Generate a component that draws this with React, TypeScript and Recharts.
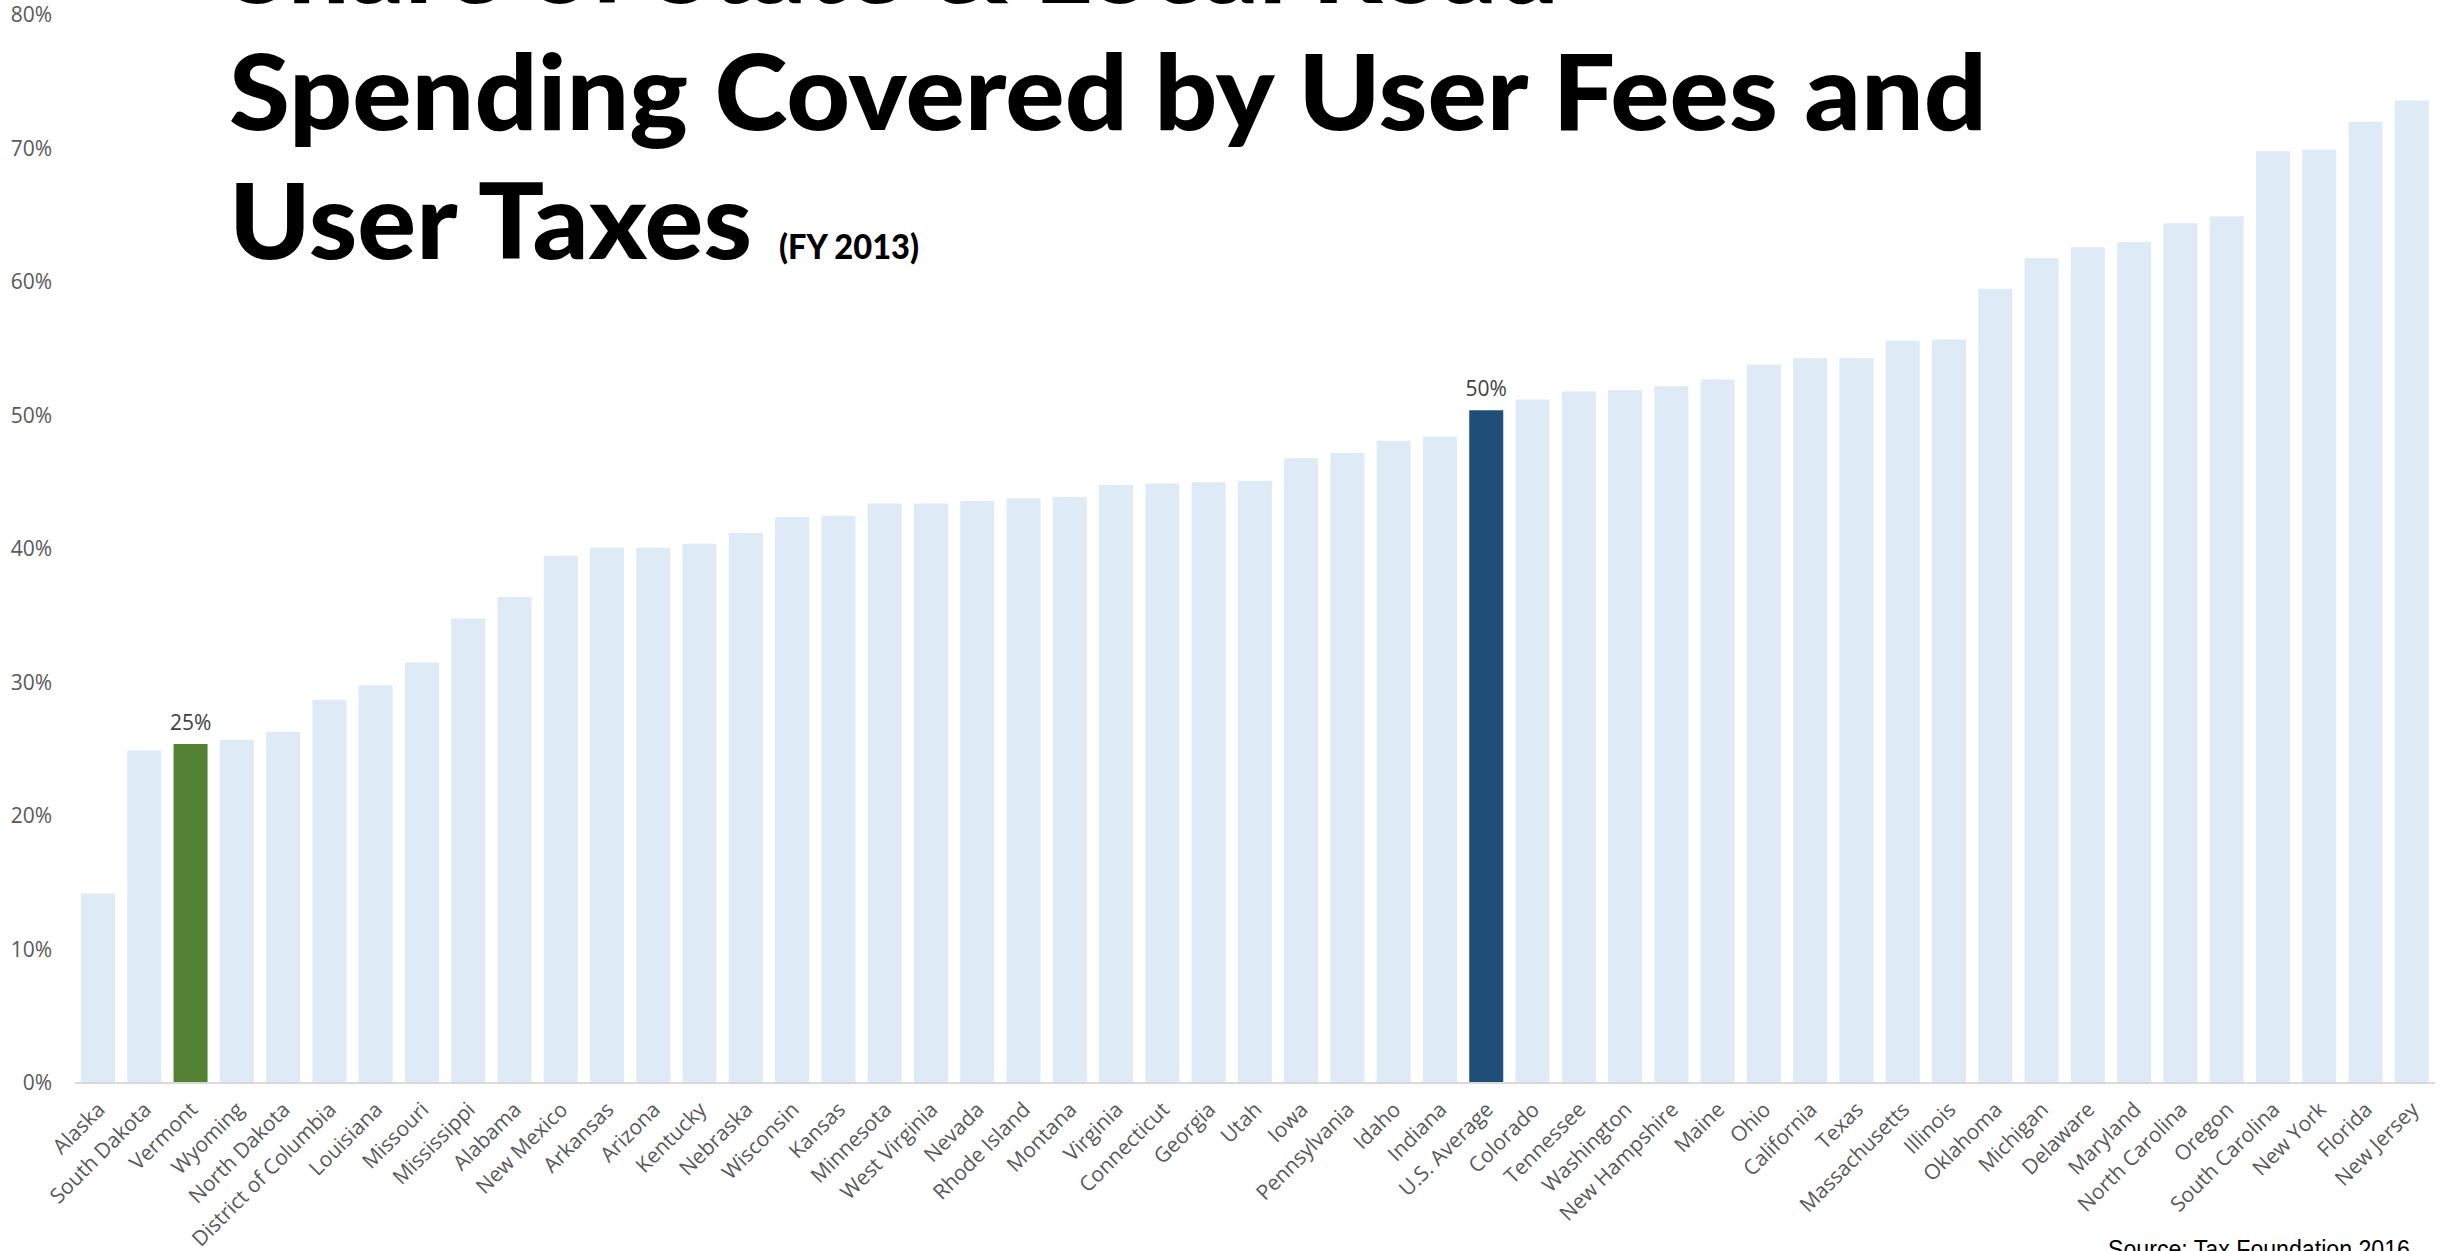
import React from 'react';
import { BarChart, Bar, XAxis, YAxis, Cell, LabelList } from 'recharts';

/* ─────── Dados ─────── */
const states = [
  'Alaska', 'South Dakota', 'Vermont', 'Wyoming', 'North Dakota', 'District of Columbia',
  'Louisiana', 'Missouri', 'Mississippi', 'Alabama', 'New Mexico', 'Arkansas', 'Arizona',
  'Kentucky', 'Nebraska', 'Wisconsin', 'Kansas', 'Minnesota', 'West Virginia', 'Nevada',
  'Rhode Island', 'Montana', 'Virginia', 'Connecticut', 'Georgia', 'Utah', 'Iowa',
  'Pennsylvania', 'Idaho', 'Indiana', 'U.S. Average', 'Colorado', 'Tennessee', 'Washington',
  'New Hampshire', 'Maine', 'Ohio', 'California', 'Texas', 'Massachusetts', 'Illinois',
  'Oklahoma', 'Michigan', 'Delaware', 'Maryland', 'North Carolina', 'Oregon',
  'South Carolina', 'New York', 'Florida', 'New Jersey',
];

const shares = [
  14.2, 24.9, 25.4, 25.7, 26.3, 28.7,
  29.8, 31.5, 34.8, 36.4, 39.5, 40.1, 40.1,
  40.4, 41.2, 42.4, 42.5, 43.4, 43.4, 43.6,
  43.8, 43.9, 44.8, 44.9, 45.0, 45.1, 46.8,
  47.2, 48.1, 48.4, 50.4, 51.2, 51.8, 51.9,
  52.2, 52.7, 53.8, 54.3, 54.3, 55.6, 55.7,
  59.5, 61.8, 62.6, 63.0, 64.4, 64.9,
  69.8, 69.9, 72.0, 73.6,
];

const yTicks = [0, 10, 20, 30, 40, 50, 60, 70, 80];

const highlight: Record<string, string> = {
  'Vermont': '#548235',
  'U.S. Average': '#1F4E79',
};

const data = states.map((name, i) => ({ name, share: shares[i] }));

const BASE_COLOR = '#DEEAF6';
const LABEL_FONT = "'Open Sans', sans-serif";

/* ─────── Rótulo inclinado do eixo X ─────── */
function StateTick(props: any) {
  const { x, y, payload } = props;
  return (
    <g transform={`translate(${x + 8},${y + 20})`}>
      <text
        textAnchor="end"
        transform="rotate(-45)"
        fill="#595959"
        fontSize={21}
        fontFamily={LABEL_FONT}
      >
        {payload.value}
      </text>
    </g>
  );
}

export default function App() {
  return (
    <div style={{
      position: 'absolute', left: 0, top: 0, width: 2458, height: 1251,
      overflow: 'hidden', background: '#fff',
    }}>
      <BarChart
        width={2458}
        height={1251}
        data={data}
        margin={{ top: 15, right: 23, left: 0, bottom: 8 }}
        barCategoryGap="13%"
      >
        <XAxis
          dataKey="name"
          interval={0}
          height={160}
          tick={<StateTick />}
          tickLine={false}
          axisLine={{ stroke: '#D9D9D9', strokeWidth: 2 }}
        />
        <YAxis
          width={75}
          domain={[0, 80]}
          ticks={yTicks}
          tickFormatter={(v) => `${v}%`}
          axisLine={false}
          tickLine={false}
          tickMargin={17}
          tick={{ fill: '#595959', fontSize: 21, fontFamily: LABEL_FONT }}
        />
        <Bar dataKey="share" isAnimationActive={false}>
          {data.map((d) => (
            <Cell key={d.name} fill={highlight[d.name] ?? BASE_COLOR} />
          ))}
          <LabelList
            dataKey="share"
            content={(p: any) => {
              const item = data[p.index];
              if (!item || !highlight[item.name]) return null;
              return (
                <text
                  x={p.x + p.width / 2}
                  y={p.y - 14}
                  textAnchor="middle"
                  fill="#404040"
                  fontSize={21}
                  fontFamily={LABEL_FONT}
                >
                  {`${Math.round(item.share)}%`}
                </text>
              );
            }}
          />
        </Bar>
      </BarChart>

      {/* título sobreposto ao gráfico */}
      <svg
        width={2458}
        height={1251}
        style={{ position: 'absolute', left: 0, top: 0, pointerEvents: 'none' }}
      >
        <g fontFamily="Lato, sans-serif" fontWeight={900} fill="#000">
          <text x={229} y={3} fontSize={105} textLength={1330} lengthAdjust="spacingAndGlyphs">
            Share of State &amp; Local Road
          </text>
          <text x={229} y={130} fontSize={105} textLength={1758} lengthAdjust="spacingAndGlyphs">
            Spending Covered by User Fees and
          </text>
          <text x={229} y={259} fontSize={105} textLength={523} lengthAdjust="spacingAndGlyphs">
            User Taxes
          </text>
          <text x={779} y={259} fontSize={34} textLength={140} lengthAdjust="spacingAndGlyphs">
            (FY 2013)
          </text>
        </g>
        <text
          x={2108}
          y={1258}
          fontSize={25}
          fontFamily="'Liberation Sans', Arial, sans-serif"
          fill="#000"
          textLength={302}
          lengthAdjust="spacingAndGlyphs"
        >
          Source: Tax Foundation 2016
        </text>
      </svg>
    </div>
  );
}
